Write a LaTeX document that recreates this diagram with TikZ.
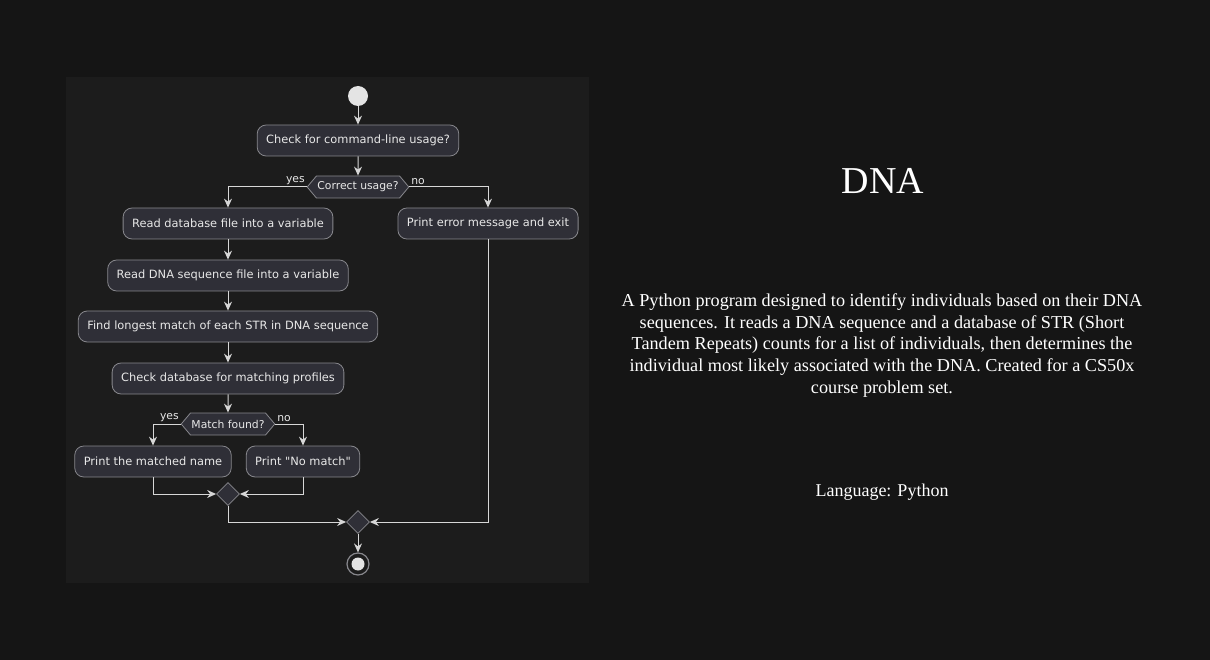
\documentclass[tikz,border=0pt]{standalone}
\usepackage{fontspec}
\setmainfont{Liberation Serif}
\newfontfamily\umlfont{DejaVu Sans}
\usetikzlibrary{arrows.meta,positioning,shapes.geometric,shapes.symbols}

\definecolor{pagebg}{RGB}{21,21,21}
\definecolor{panelbg}{RGB}{28,28,28}
\definecolor{boxfill}{RGB}{47,47,55}
\definecolor{boxline}{RGB}{135,135,140}
\definecolor{umlline}{RGB}{215,215,215}
\definecolor{umltext}{RGB}{232,232,232}
\definecolor{startfill}{RGB}{228,228,228}

\begin{document}
\begin{tikzpicture}[
    x=1pt, y=-1pt,
    action/.style={draw=boxline, fill=boxfill, line width=0.8pt, rounded corners=9pt,
                   minimum height=31pt, inner xsep=9pt, text=umltext,
                   font=\umlfont\fontsize{11.4}{13}\selectfont},
    choice/.style={signal, signal to=west and east, signal pointer angle=100,
                   draw=boxline, fill=boxfill, line width=0.8pt, minimum height=22pt,
                   inner xsep=1pt, inner ysep=2pt, text=umltext,
                   font=\umlfont\fontsize{10.8}{12}\selectfont},
    merge/.style={diamond, draw=boxline, fill=boxfill, line width=0.8pt,
                  minimum size=23pt, inner sep=0pt},
    startmark/.style={circle, fill=startfill, minimum size=20pt, inner sep=0pt},
    endmark/.style={circle, draw=boxline, line width=1.2pt, minimum size=22pt, inner sep=0pt,
                    path picture={\fill[startfill] (path picture bounding box.center) circle (6.5pt);}},
    flow/.style={-{Stealth[length=9pt, width=8pt, inset=3pt]}, draw=umlline, line width=1pt},
    guard/.style={text=umltext, inner sep=1.5pt, font=\umlfont\fontsize{10.8}{12}\selectfont},
    info/.style={text=white, align=center}
]

% Canvas
\useasboundingbox[fill=pagebg] (0,0) rectangle (1210,660);
\fill[panelbg] (66,77) rectangle (589,583);

% Activities
\node[startmark] (start) at (358,96) {};
\node[action] (usage) at (358,140.5) {Check for command-line usage?};
\node[choice] (okusage) at (358,187) {Correct usage?};
\node[action] (readdb) at (228,223.5) {Read database file into a variable};
\node[action] (err) at (488,223.5) {Print error message and exit};
\node[action] (readseq) at (228,275.5) {Read DNA sequence file into a variable};
\node[action] (longest) at (228,326.5) {Find longest match of each STR in DNA sequence};
\node[action] (profiles) at (228,378.5) {Check database for matching profiles};
\node[choice] (found) at (228,424) {Match found?};
\node[action] (named) at (153,461.5) {Print the matched name};
\node[action] (nomatch) at (303,461.5) {Print "No match"};
\node[merge] (join) at (228,494) {};
\node[merge] (final) at (358,522) {};
\node[endmark] (stop) at (358,564) {};

% Flows
\draw[flow] (start) -- (usage);
\draw[flow] (usage) -- (okusage);
\draw[flow] (okusage.west) node[guard, anchor=south east] {yes} -| (readdb.north);
\draw[flow] (okusage.east) node[guard, anchor=south west] {no} -| (err.north);
\draw[flow] (readdb) -- (readseq);
\draw[flow] (readseq) -- (longest);
\draw[flow] (longest) -- (profiles);
\draw[flow] (profiles) -- (found);
\draw[flow] (found.west) node[guard, anchor=south east] {yes} -| (named.north);
\draw[flow] (found.east) node[guard, anchor=south west] {no} -| (nomatch.north);
\draw[flow] (named.south) |- (join.west);
\draw[flow] (nomatch.south) |- (join.east);
\draw[flow] (join.south) |- (final.west);
\draw[flow] (err.south) |- (final.east);
\draw[flow] (final) -- (stop);

% Description
\node[info, font=\fontsize{38}{40}\selectfont] (title) at (883,181) {DNA};
\node[info, font=\fontsize{18.2}{21.8}\selectfont] (about) at (882,345.5) {%
A Python program designed to identify individuals based on their DNA\\
sequences. It reads a DNA sequence and a database of STR (Short\\
Tandem Repeats) counts for a list of individuals, then determines the\\
individual most likely associated with the DNA. Created for a CS50x\\
course problem set.};
\node[info, font=\fontsize{18}{20}\selectfont] (lang) at (882,492.5) {Language: Python};

\end{tikzpicture}
\end{document}
